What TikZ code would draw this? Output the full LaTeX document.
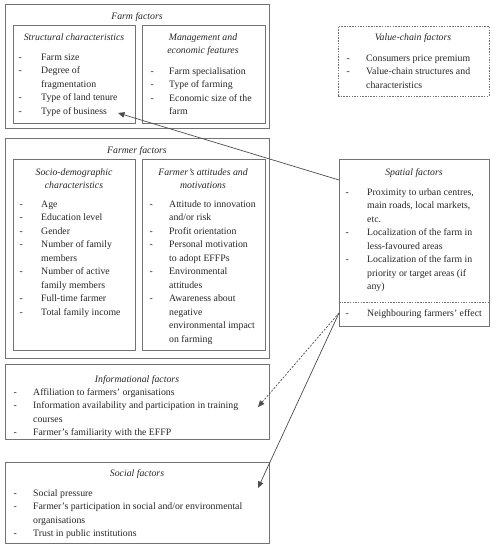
\documentclass[tikz,border=0pt]{standalone}
\usepackage{fontspec}
\setmainfont{Liberation Serif}
\usetikzlibrary{arrows.meta}
\newcommand{\fs}{\fontsize{9.8}{13.5}\selectfont}
\newcommand{\itemlist}[2]{\begin{tabular}[t]{@{}p{#1pt}@{}l@{}}#2\end{tabular}}
\newcommand{\ttllines}[1]{\begin{tabular}[t]{@{}c@{}}#1\end{tabular}}
\tikzset{
  box/.style={draw=black!55, line width=0.8pt, anchor=north west, inner sep=0pt, outer sep=0pt},
  dotbox/.style={box, dash pattern=on 1.5pt off 1.2pt},
  ttl/.style={anchor=base, inner sep=0pt, font=\fs\itshape, text=black!85},
  lst/.style={anchor=base west, inner sep=0pt, font=\fs, text=black!85},
  arr/.style={draw=black!70, line width=0.7pt, -{Triangle[length=6.5pt,width=5.5pt]}},
  dasharr/.style={arr, dash pattern=on 2pt off 1.5pt},
  sep/.style={draw=black!55, line width=0.8pt, dash pattern=on 1.5pt off 1.2pt},
}
\begin{document}
\begin{tikzpicture}[x=1pt,y=-1pt]
\useasboundingbox (0,0) rectangle (497,550);
% Farm factors
\node[box, minimum width=264, minimum height=124] (farm) at (5,4) {};
\node[ttl] (farmT) at (137,19) {Farm factors};
\node[box, minimum width=122, minimum height=98] (struct) at (13,25) {};
\node[ttl] (structT) at (74,40) {Structural characteristics};
\node[lst] (structL) at (18.5,60) {\itemlist{22.5}{-&Farm size\\-&Degree of\\&fragmentation\\-&Type of land tenure\\-&Type of business}};
\node[box, minimum width=123, minimum height=98] (mgmt) at (142,25) {};
\node[ttl] (mgmtT) at (203,40) {\ttllines{Management and\\economic features}};
\node[lst] (mgmtL) at (150.5,74) {\itemlist{18.5}{-&Farm specialisation\\-&Type of farming\\-&Economic size of the\\&farm}};
% Value chain
\node[dotbox, minimum width=151, minimum height=70] (value) at (338,26) {};
\node[ttl] (valueT) at (413,40) {Value-chain factors};
\node[lst] (valueL) at (346.5,61) {\itemlist{19.5}{-&Consumers price premium\\-&Value-chain structures and\\&characteristics}};
% Farmer factors
\node[box, minimum width=264, minimum height=220] (farmer) at (5,138) {};
\node[ttl] (farmerT) at (137,153) {Farmer factors};
\node[box, minimum width=122, minimum height=191] (socio) at (13,159) {};
\node[ttl] (socioT) at (74,175) {\ttllines{Socio-demographic\\characteristics}};
\node[lst] (socioL) at (19.5,207) {\itemlist{21.5}{-&Age\\-&Education level\\-&Gender\\-&Number of family\\&members\\-&Number of active\\&family members\\-&Full-time farmer\\-&Total family income}};
\node[box, minimum width=123, minimum height=191] (att) at (142,159) {};
\node[ttl] (attT) at (203,175) {\ttllines{Farmer's attitudes and\\motivations}};
\node[lst] (attL) at (149.5,207) {\itemlist{19.5}{-&Attitude to innovation\\&and/or risk\\-&Profit orientation\\-&Personal motivation\\&to adopt EFFPs\\-&Environmental\\&attitudes\\-&Awareness about\\&negative\\&environmental impact\\&on farming}};
% Spatial
\node[box, minimum width=150, minimum height=167] (spatial) at (339,159) {};
\node[ttl] (spatialT) at (414,175) {Spatial factors};
\node[lst] (spatialL) at (345.5,195) {\itemlist{21.5}{-&Proximity to urban centres,\\&main roads, local markets,\\&etc.\\-&Localization of the farm in\\&less-favoured areas\\-&Localization of the farm in\\&priority or target areas (if\\&any)}};
\coordinate (sepW) at (339,302);
\coordinate (sepE) at (489,302);
\draw[sep] (sepW) -- (sepE);
\node[lst] (spatialN) at (345.5,316) {\itemlist{21.5}{-&Neighbouring farmers' effect}};
% Informational
\node[box, minimum width=264, minimum height=75] (info) at (5,364) {};
\node[ttl] (infoT) at (137,382) {Informational factors};
\node[lst] (infoL) at (13.5,395) {\itemlist{19.5}{-&Affiliation to farmers' organisations\\-&Information availability and participation in training\\&courses\\-&Farmer's familiarity with the EFFP}};
% Social
\node[box, minimum width=264, minimum height=81] (social) at (5,462) {};
\node[ttl] (socialT) at (137,476) {Social factors};
\node[lst] (socialL) at (13.5,496) {\itemlist{19.5}{-&Social pressure\\-&Farmer's participation in social and/or environmental\\&organisations\\-&Trust in public institutions}};
% Arrows
\coordinate (s1) at (339,180);
\coordinate (t1) at (118,113);
\coordinate (s2) at (339,313);
\coordinate (t2) at (258,407);
\coordinate (t3) at (258,488);
\draw[arr] (s1) -- (t1);
\draw[dasharr] (s2) -- (t2);
\draw[arr] (s2) -- (t3);
\end{tikzpicture}
\end{document}
